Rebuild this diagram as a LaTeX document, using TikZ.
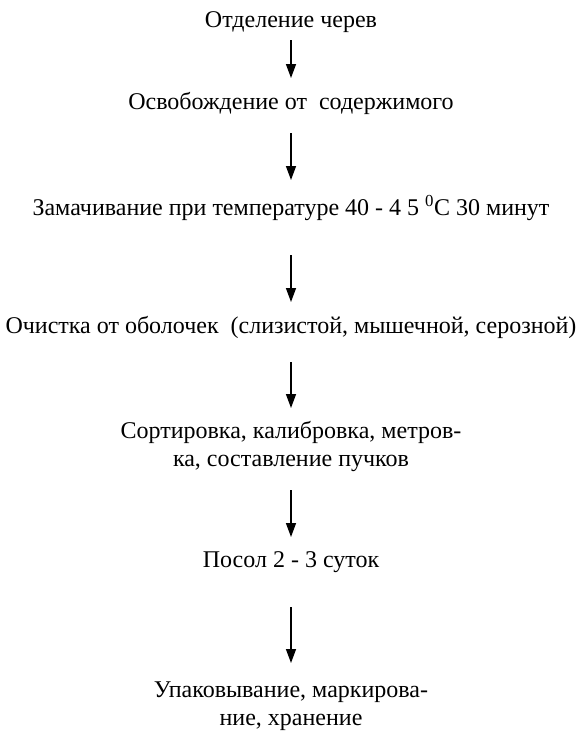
\documentclass[tikz,border=0pt]{standalone}
\usepackage{fontspec}
\setmainfont{Liberation Serif}
\usetikzlibrary{arrows.meta}
\tikzstyle{stage} = [rectangle, inner sep=0pt, text centered, align=center, font=\fontsize{24}{28}\selectfont]
\tikzstyle{arrow} = [line width=1.4pt, -{Triangle[length=14pt,width=10pt]}]

\begin{document}
\begin{tikzpicture}[x=1pt, y=1pt, node distance=116pt]
\useasboundingbox (0,0) rectangle (584,-740);

\node (sep) [stage] at (291,-22) {Отделение черев};
\node (empty) [stage, below of=sep, yshift=35pt] {Освобождение от~ содержимого};
\node (soak) [stage, below of=empty, yshift=11pt] {Замачивание при температуре 40 - 4 5 \textsuperscript{0}С 30 минут};
\node (clean) [stage, below of=soak, yshift=-3pt] {Очистка от оболочек~ (слизистой, мышечной, серозной)};
\node (sort) [stage, below of=clean, yshift=-3pt] {Сортировка, калибровка, метров-\\ка, составление пучков};
\node (salt) [stage, below of=sort] {Посол 2 - 3 суток};
\node (pack) [stage, below of=salt, yshift=-28pt] {Упаковывание, маркирова-\\ние, хранение};

\draw [arrow] ([yshift=-18pt]sep.center) -- ([yshift=25pt]empty.center);
\draw [arrow] ([yshift=-30pt]empty.center) -- ([yshift=28pt]soak.center);
\draw [arrow] ([yshift=-47pt]soak.center) -- ([yshift=25pt]clean.center);
\draw [arrow] ([yshift=-35pt]clean.center) -- ([yshift=38pt]sort.center);
\draw [arrow] ([yshift=-44pt]sort.center) -- ([yshift=25pt]salt.center);
\draw [arrow] ([yshift=-45pt]salt.center) -- ([yshift=43pt]pack.center);

\end{tikzpicture}
\end{document}
